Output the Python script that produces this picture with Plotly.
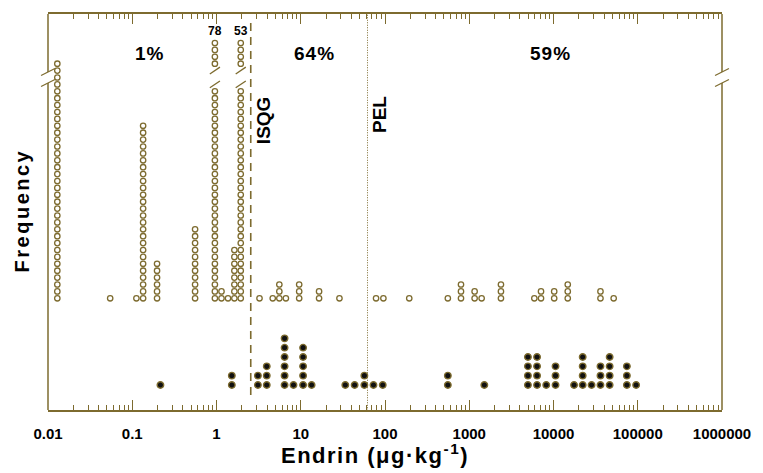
import numpy as np
import plotly.graph_objects as go

OLIVE = '#7d6b2f'
FONT = 'Arial, Liberation Sans, sans-serif'

# ---------------- data ----------------
# Upper group: open circles (concentration bin, number of samples)
upper_x = [0.0129, 0.0547, 0.112, 0.1346, 0.197, 0.557, 0.957, 1.146, 1.37, 1.63, 1.94,
           3.24, 4.65, 5.57, 6.66, 9.58, 16.5, 28.8, 78.3, 95.7, 194,
           557, 798, 1158, 1403, 2378, 5924, 7108, 10190, 14760, 36100, 51800]
upper_n = [35, 1, 1, 26, 6, 11, 78, 2, 1, 8, 53,
           1, 1, 3, 1, 3, 2, 1, 1, 1, 1,
           1, 3, 2, 1, 3, 1, 2, 2, 3, 2, 1]

# Lower group: filled circles
lower_x = [0.216, 1.52, 3.10, 3.95, 6.43, 8.20, 10.66, 13.46, 33.8, 43.6, 56.9, 73.0, 94.0,
           557, 1510, 4970, 6380, 8200, 10570, 17540, 22200, 28300, 36100, 46400, 74300, 95700]
lower_n = [1, 2, 2, 3, 6, 1, 5, 1, 1, 1, 2, 1, 1,
           2, 1, 4, 4, 1, 3, 1, 4, 1, 3, 4, 3, 1]

# Guideline values
ISQG = 2.55
PEL = 62.0

# Region percentages
pct_labels = ['1%', '64%', '59%']

# x-axis ticks
tick_vals = [0.01, 0.1, 1, 10, 100, 1000, 10000, 100000, 1000000]
tick_text = ['0.01', '0.1', '1', '10', '100', '1000', '10000', '100000', '1000000']
minor_vals = [m * 10.0 ** d for d in range(-2, 6) for m in range(2, 10)]

# ---------------- stacking ----------------
BREAK_LIMIT = 38      # stacks above this are drawn with a break
LOW_ROWS = 31         # rows shown below the break
TOP_START = 34        # first row above the break
TOP_ROWS = 4

ux, uy = [], []
broken = []
for x, n in zip(upper_x, upper_n):
    if n > BREAK_LIMIT:
        rows = list(range(LOW_ROWS)) + list(range(TOP_START, TOP_START + TOP_ROWS))
        broken.append((x, n))
    else:
        rows = list(range(n))
    ux += [x] * len(rows)
    uy += rows

lx, ly = [], []
for x, n in zip(lower_x, lower_n):
    lx += [x] * n
    ly += list(range(n))

fig = go.Figure()

# break marks across the broken stacks
bx, by = [], []
dlog = 0.06
for x, n in broken:
    for kc in (LOW_ROWS + 0.0, TOP_START - 1.0):
        bx += [10 ** (np.log10(x) - dlog), 10 ** (np.log10(x) + dlog), None]
        by += [kc - 0.5, kc + 0.5, None]

# PEL dotted line
fig.add_trace(go.Scatter(x=[PEL, PEL], y=[-16.3, 41.3], mode='lines',
                         line=dict(color=OLIVE, width=1, dash='1px,1.5px'),
                         hoverinfo='skip', showlegend=False, xaxis='x2', yaxis='y'))
# ISQG dashed line
fig.add_trace(go.Scatter(x=[ISQG, ISQG], y=[-14.0, 40.6], mode='lines',
                         line=dict(color=OLIVE, width=1.6, dash='8px,6px'),
                         hoverinfo='skip', showlegend=False))

fig.add_trace(go.Scatter(x=ux, y=uy, mode='markers',
                         marker=dict(symbol='circle', size=5.4, color='white',
                                     line=dict(color=OLIVE, width=1.3)),
                         showlegend=False))
fig.add_trace(go.Scatter(x=bx, y=by, mode='lines',
                         line=dict(color=OLIVE, width=1.3), showlegend=False,
                         hoverinfo='skip'))
fig.add_trace(go.Scatter(x=lx, y=ly, mode='markers', yaxis='y2',
                         marker=dict(symbol='circle', size=6.5, color='#111111',
                                     line=dict(color=OLIVE, width=1.4)),
                         showlegend=False))

# ---------------- annotations ----------------
def txt(s, sp):
    return '<span style="letter-spacing:%spx">%s</span>' % (sp, s)

ann = []
for x, n in broken:
    ann.append(dict(x=np.log10(x), y=TOP_START + TOP_ROWS + 0.7, xref='x', yref='y',
                    text=str(n), showarrow=False, xanchor='center', yanchor='middle',
                    font=dict(family=FONT, size=12, color='black', weight='bold')))

for t, xp in zip(pct_labels, [0.150, 0.3956, 0.7456]):
    ann.append(dict(x=xp, y=0.899, xref='paper', yref='paper', text=txt(t, 1),
                    showarrow=False, xanchor='center', yanchor='middle',
                    font=dict(family=FONT, size=19, color='black', weight='bold')))

ann.append(dict(x=0.319, y=0.732, xref='paper', yref='paper', text='ISQG', textangle=-90,
                showarrow=False, xanchor='center', yanchor='middle',
                font=dict(family=FONT, size=19, color='black', weight='bold')))
ann.append(dict(x=0.4926, y=0.745, xref='paper', yref='paper', text='PEL', textangle=-90,
                showarrow=False, xanchor='center', yanchor='middle',
                font=dict(family=FONT, size=19, color='black', weight='bold')))
ann.append(dict(x=-0.038, y=0.505, xref='paper', yref='paper', text=txt('Frequency', 2.5),
                textangle=-90, showarrow=False, xanchor='center', yanchor='middle',
                font=dict(family=FONT, size=20, color='black', weight='bold')))
ann.append(dict(x=0.485, y=-0.11, xref='paper', yref='paper',
                text=txt('Endrin (μg·kg<sup>-1</sup>)', 1.5), showarrow=False,
                xanchor='center', yanchor='middle',
                font=dict(family=FONT, size=22, color='black', weight='bold')))

# ---------------- frame shapes (left/right lines with breaks) ----------------
def py(p):
    return (410 - p) / 396.0

def pxf(p):
    return (p - 48) / 680.0

shapes = []
for xe in (0.0, 1.0):
    shapes.append(dict(type='line', xref='paper', yref='paper', x0=xe, x1=xe, y0=0, y1=py(83),
                       line=dict(color=OLIVE, width=1.5)))
    shapes.append(dict(type='line', xref='paper', yref='paper', x0=xe, x1=xe, y0=py(72), y1=1,
                       line=dict(color=OLIVE, width=1.5)))
    xc = 48 if xe == 0 else 728
    for yc in (72, 83):
        shapes.append(dict(type='line', xref='paper', yref='paper',
                           x0=pxf(xc - 7), y0=py(yc + 3.5), x1=pxf(xc + 7), y1=py(yc - 3.5),
                           line=dict(color=OLIVE, width=1.3)))

axis_common = dict(type='log', range=[-2, 6], showgrid=False, zeroline=False,
                   showline=True, linecolor=OLIVE, linewidth=1.5,
                   ticks='inside', ticklen=10, tickwidth=1.3, tickcolor=OLIVE,
                   tickmode='array', tickvals=tick_vals,
                   minor=dict(ticks='inside', ticklen=5, tickwidth=1.1, tickcolor=OLIVE,
                              tickmode='array', tickvals=minor_vals, showgrid=False))

fig.update_layout(
    width=763, height=473,
    margin=dict(l=48, r=35, t=14, b=63),
    paper_bgcolor='white', plot_bgcolor='white',
    xaxis=dict(**axis_common, ticktext=tick_text, ticklabelstandoff=9,
               tickfont=dict(family=FONT, size=15, color='black', weight='bold')),
    xaxis2=dict(**axis_common, overlaying='x', side='top', anchor='y', showticklabels=False),
    yaxis=dict(range=[-16.19, 41.2], visible=False, showgrid=False, zeroline=False),
    yaxis2=dict(range=[-2.68, 39.76], overlaying='y', visible=False, showgrid=False,
                zeroline=False),
    annotations=ann,
    shapes=shapes,
)

fig.write_html('out.html', config={'displayModeBar': False},
               post_script="document.body.style.margin='0px';")
